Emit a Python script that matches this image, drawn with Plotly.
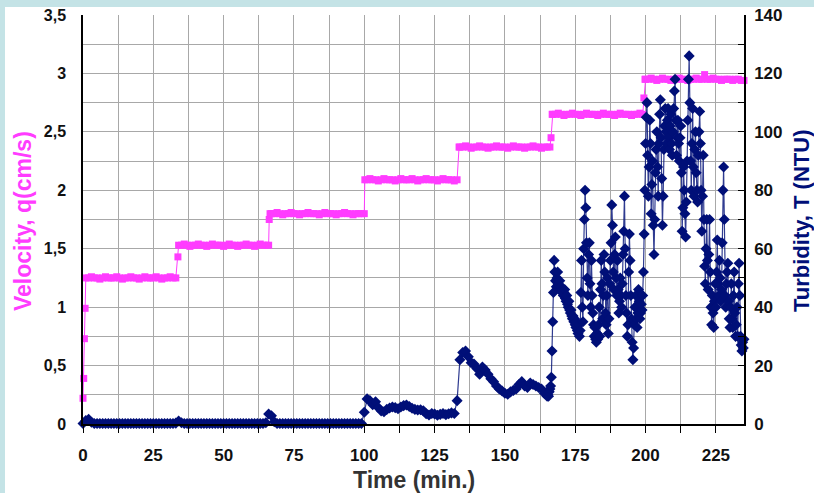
import numpy as np
import plotly.graph_objects as go

# ---------------- data ----------------
# Velocity q (cm/s), one reading per minute starting at t = 0
velocity = [
    0.22, 1.25, 1.25, 1.26, 1.25, 1.25, 1.24, 1.25, 1.26, 1.25, 1.25, 1.25,
    1.26, 1.25, 1.24, 1.25, 1.25, 1.26, 1.25, 1.25, 1.24, 1.25, 1.26, 1.25,
    1.25, 1.25, 1.26, 1.25, 1.24, 1.25, 1.25, 1.26, 1.25, 1.25,
    1.53, 1.53, 1.54, 1.53, 1.52, 1.53, 1.53, 1.54, 1.53, 1.53, 1.52, 1.53,
    1.54, 1.53, 1.53, 1.53, 1.52, 1.53, 1.54, 1.53, 1.53, 1.52, 1.53, 1.53,
    1.54, 1.53, 1.53, 1.52, 1.53, 1.54, 1.53, 1.53, 1.53,
    1.80, 1.80, 1.81, 1.80, 1.79, 1.80, 1.80, 1.81, 1.80, 1.80, 1.79, 1.80,
    1.80, 1.81, 1.80, 1.80, 1.80, 1.79, 1.80, 1.81, 1.80, 1.80, 1.80, 1.79,
    1.80, 1.80, 1.81, 1.80, 1.80, 1.79, 1.80, 1.80, 1.80, 1.80,
    2.09, 2.10, 2.09, 2.09, 2.08, 2.09, 2.10, 2.09, 2.09, 2.09, 2.08, 2.09,
    2.10, 2.09, 2.09, 2.09, 2.10, 2.09, 2.08, 2.09, 2.09, 2.10, 2.09, 2.09,
    2.09, 2.08, 2.09, 2.10, 2.09, 2.09, 2.09, 2.08, 2.09,
    2.37, 2.37, 2.38, 2.37, 2.36, 2.37, 2.37, 2.38, 2.37, 2.37, 2.36, 2.37,
    2.37, 2.38, 2.37, 2.37, 2.37, 2.36, 2.37, 2.38, 2.37, 2.37, 2.37, 2.36,
    2.37, 2.37, 2.38, 2.37, 2.37, 2.36, 2.37, 2.37, 2.37,
    2.65, 2.65, 2.66, 2.65, 2.64, 2.65, 2.65, 2.66, 2.65, 2.65, 2.64, 2.65,
    2.66, 2.65, 2.65, 2.65, 2.64, 2.65, 2.66, 2.65, 2.65, 2.65, 2.64, 2.65,
    2.66, 2.65, 2.65, 2.65, 2.64, 2.65, 2.65, 2.66, 2.65,
    2.95, 2.95, 2.96, 2.95, 2.94, 2.95, 2.96, 2.95, 2.95, 2.94, 2.95, 2.95,
    2.96, 2.95, 2.95, 2.94, 2.95, 2.95, 2.96, 2.95, 2.95, 2.99, 2.95, 2.95,
    2.96, 2.95, 2.95, 2.94, 2.95, 2.95, 2.95, 2.94, 2.95, 2.95, 2.94, 2.94,
]
# readings taken during the velocity changes
vel_step_time = [0.25, 0.5, 0.75, 33.75, 66.2, 66.5, 100.2, 133.7, 166.4, 166.8, 199.4, 199.8]
vel_step_value = [0.39, 0.73, 0.99, 1.43, 1.75, 1.80, 2.09, 2.37, 2.45, 2.65, 2.79, 2.95]

# Turbidity T (NTU), one reading per minute from t = 0 to t = 165
turb_early = [
    0.2, 1.2, 1.6, 0.6, 0.2, 0.2, 0.2, 0.2, 0.2, 0.2,
    0.2, 0.2, 0.2, 0.2, 0.2, 0.2, 0.2, 0.2, 0.2, 0.2,
    0.2, 0.2, 0.2, 0.2, 0.2, 0.2, 0.2, 0.2, 0.2, 0.2,
    0.2, 0.2, 0.2, 0.3, 1.0, 0.4, 0.2, 0.2, 0.2, 0.2,
    0.2, 0.2, 0.2, 0.2, 0.2, 0.2, 0.2, 0.2, 0.2, 0.2,
    0.2, 0.2, 0.2, 0.2, 0.2, 0.2, 0.2, 0.2, 0.2, 0.2,
    0.2, 0.2, 0.2, 0.2, 0.2, 0.4, 3.4, 2.8, 0.8, 0.2,
    0.2, 0.2, 0.2, 0.2, 0.2, 0.2, 0.2, 0.2, 0.2, 0.2,
    0.2, 0.2, 0.2, 0.2, 0.2, 0.2, 0.2, 0.2, 0.2, 0.2,
    0.2, 0.2, 0.2, 0.2, 0.2, 0.2, 0.2, 0.2, 0.2, 0.2,
    4.0, 8.6, 8.0, 6.6, 7.6, 5.6, 4.5, 4.2, 5.0, 5.5,
    5.8, 5.6, 5.2, 5.8, 6.3, 6.5, 6.0, 5.4, 5.0, 4.8,
    4.9, 4.5, 3.5, 3.1, 3.6, 3.4, 3.0, 3.3, 3.6, 3.2,
    3.5, 3.8, 3.6, 8.0, 22.0, 24.5, 25.0, 23.0, 21.0, 20.5,
    19.0, 17.0, 19.5, 18.5, 17.0, 15.5, 14.5, 13.0, 12.0, 11.3,
    10.5, 10.2, 11.0, 11.5, 12.0, 13.5, 14.5, 13.0, 12.5, 14.0,
    13.5, 13.0, 12.5, 12.0, 10.5, 9.5,
]
# Turbidity T (NTU), one reading every quarter minute from t = 165.25 to t = 235
turb_late = [
    10, 9.5, 11, 12,    13, 16, 25, 35,     45, 56, 52, 49,     47, 50, 52, 48,
    47, 49, 46, 47,     45, 46, 44, 45,     46, 43, 42, 44,     41, 40, 42, 39,
    38, 39, 37, 36,     37, 35, 36, 34,     33, 35, 32, 31,     34, 30, 32, 45,
    56, 40, 35, 60,     70, 80, 74, 62,     50, 44, 58, 62,     48, 40, 56, 44,
    38, 34, 30, 33,     29, 28, 31, 29,     34, 40, 30, 46,     56, 48, 36, 44,
    58, 52, 38, 34,     44, 50, 31, 36,     48, 56, 62, 75,     68, 52, 46, 58,
    64, 50, 44, 56,     46, 38, 42, 50,     44, 40, 48, 58,     66, 78, 60, 44,
    38, 30, 34, 52,     65, 56, 44, 36,     28, 22, 26, 34,     40, 44, 36, 33,
    38, 46, 42, 36,     38, 41, 39, 44,     52, 65, 80, 96,     105, 110, 92, 78,
    88, 104, 96, 72,    82, 90, 68, 58,     70, 86, 94, 100,    88, 78, 96, 106,
    111, 98, 84, 68,    78, 94, 102, 108,   100, 96, 104, 108,  98, 94, 102, 106,
    96, 92, 100, 108,   114, 118, 104, 92,  98, 104, 96, 90,    98, 102, 86, 66,
    74, 88, 80, 72,     64, 76, 90, 104,    118, 126, 110, 90,  80, 96, 108, 88,
    78, 94, 100, 86,    80, 76, 92, 100,    107, 96, 80, 66,    78, 92, 70, 54,
    48, 60, 70, 56,     46, 58, 70, 52,     40, 34, 44, 38,     33, 42, 48, 40,
    52, 63, 48, 44,     56, 50, 42, 46,     62, 80, 88, 70,     44, 40, 48, 52,
    55, 42, 36, 33,     40, 48, 36, 33,     44, 52, 38, 30,     34, 40, 30, 48,
    55, 44, 30, 27,     25, 28, 26, 29,
]

x_ticks = [0, 25, 50, 75, 100, 125, 150, 175, 200, 225]

# ---------------- assemble series ----------------
vel_t = np.concatenate([np.arange(len(velocity), dtype=float), vel_step_time])
vel_v = np.concatenate([velocity, vel_step_value])
order = np.argsort(vel_t, kind="stable")
vel_t, vel_v = vel_t[order], vel_v[order]

turb_t = np.concatenate([np.arange(len(turb_early), dtype=float),
                         165.25 + 0.25 * np.arange(len(turb_late))])
turb_v = np.concatenate([turb_early, np.asarray(turb_late, dtype=float)])

MAGENTA = "#ff3cff"
NAVY = "#000f78"
GRID = "#a8a8a8"
FONT = "Liberation Sans, Arial, sans-serif"

# plot area in pixels: x 83..744, y 15..424
L, R, T, B = 83, 70, 15, 69
PW, PH = 814 - L - R, 493 - T - B


def px(xp):
    return (xp - L) / PW


def py(yp):
    return (493 - B - yp) / PH


fig = go.Figure()
fig.add_trace(go.Scatter(
    x=vel_t, y=vel_v, mode="lines+markers", name="Velocity",
    line=dict(color=MAGENTA, width=1),
    marker=dict(symbol="square", size=7, color=MAGENTA),
    yaxis="y", showlegend=False, cliponaxis=False,
))
fig.add_trace(go.Scatter(
    x=turb_t, y=turb_v, mode="lines+markers", name="Turbidity",
    line=dict(color="rgba(10,25,125,0.85)", width=1.2),
    marker=dict(symbol="diamond", size=8.5, color=NAVY),
    yaxis="y2", showlegend=False, cliponaxis=False,
))

fig.update_layout(
    width=814, height=493,
    margin=dict(l=L, r=R, t=T, b=B, autoexpand=False),
    paper_bgcolor="white", plot_bgcolor="white",
    separators=", ",
    font=dict(family=FONT, color="#000000"),
    xaxis=dict(
        range=[0, 235], tickvals=x_ticks, ticktext=[str(v) for v in x_ticks],
        showgrid=True, gridcolor=GRID, gridwidth=1,
        minor=dict(dtick=12.5, tick0=0, showgrid=True, gridcolor=GRID, gridwidth=1,
                   ticks="outside", ticklen=7, tickcolor="#000"),
        ticks="outside", ticklen=7, tickcolor="#000",
        showline=True, linecolor="#000", linewidth=1.5, zeroline=False,
        tickfont=dict(size=17, weight="bold", color="#111"),
        ticklabelstandoff=8,
    ),
    yaxis=dict(
        range=[0, 3.5], dtick=0.5, tick0=0,
        showgrid=True, gridcolor=GRID, gridwidth=1,
        minor=dict(dtick=0.25, showgrid=True, gridcolor=GRID, gridwidth=1),
        ticks="", ticklabelstandoff=12,
        showline=True, linecolor="#000", linewidth=1.5, zeroline=False,
        tickfont=dict(size=16, weight="bold", color="#111"),
    ),
    yaxis2=dict(
        range=[0, 140], dtick=20, tick0=0, overlaying="y", side="right",
        showgrid=False, zeroline=False,
        ticks="inside", ticklen=6, tickcolor="#000",
        minor=dict(dtick=10, ticks="inside", ticklen=6, tickcolor="#000", showgrid=False),
        showline=True, linecolor="#000", linewidth=1.5,
        tickfont=dict(size=17, weight="bold", color="#111"),
        ticklabelstandoff=5,
    ),
    annotations=[
        dict(text="<b>Time (min.)</b>", xref="paper", yref="paper",
             x=px(414), y=py(480), xanchor="center", yanchor="middle", showarrow=False,
             font=dict(size=23, color="#333333", family=FONT)),
        dict(text="<b>Velocity, q(cm/s)</b>", xref="paper", yref="paper",
             x=px(23), y=py(221), xanchor="center", yanchor="middle", showarrow=False,
             textangle=-90, font=dict(size=23, color=MAGENTA, family=FONT)),
        dict(text="<b>Turbidity, T (NTU)</b>", xref="paper", yref="paper",
             x=px(801), y=py(221), xanchor="center", yanchor="middle", showarrow=False,
             textangle=-90, font=dict(size=22, color=NAVY, family=FONT)),
    ],
    shapes=[
        dict(type="rect", xref="paper", yref="paper", x0=-0.2, x1=1.2,
             y0=py(7), y1=1.1, fillcolor="#c4e3e6", line=dict(width=0), layer="below"),
        dict(type="rect", xref="paper", yref="paper", x0=-0.2, x1=px(5),
             y0=-0.3, y1=1.1, fillcolor="#c4e3e6", line=dict(width=0), layer="below"),
    ],
)

fig.write_html("out.html", config={"displayModeBar": False},
               post_script="document.body.style.margin='0';document.body.style.overflow='hidden';")
